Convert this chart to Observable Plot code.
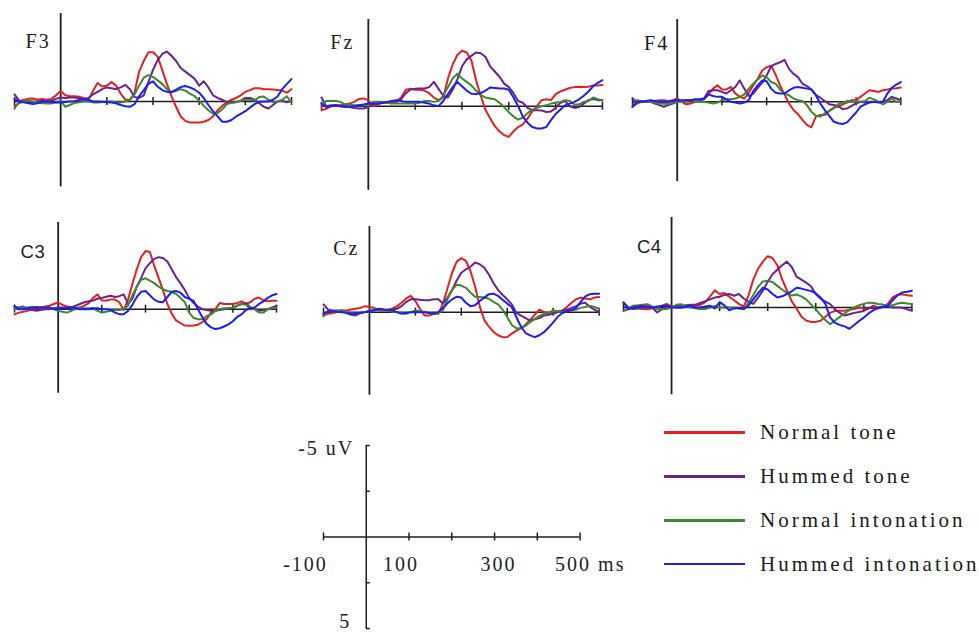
<!DOCTYPE html>
<html>
<head>
<meta charset="utf-8">
<script src="https://cdn.jsdelivr.net/npm/d3@7"></script>
<script src="https://cdn.jsdelivr.net/npm/@observablehq/plot@0.6"></script>
<style>
  html, body { margin: 0; padding: 0; background: #fff; }
  #chart { position: relative; width: 979px; height: 634px; overflow: hidden; background: #fff; }
  #chart svg { position: absolute; overflow: visible; }
  #chart svg text { letter-spacing: 2px; }
  #chart svg text.sans-label { letter-spacing: 0.5px; }
  .legend-row { position: absolute; display: flex; align-items: center; height: 26px; }
  .legend-swatch { width: 81px; height: 2.5px; margin-right: 15px; }
  .legend-label { font-family: "Liberation Serif", "DejaVu Serif", serif; font-size: 21px; letter-spacing: 3px; color: #1a1a1a; white-space: nowrap; }
</style>
</head>
<body>
<div id="chart"></div>
<script>
// ---------------- data ----------------
const times = d3.range(-100, 501, 10); // ms, 61 samples
const conditions = ["Normal tone", "Hummed tone", "Normal intonation", "Hummed intonation"];
const channels = ["F3", "Fz", "F4", "C3", "Cz", "C4"];

// amplitudes in uV (negative plotted upward)
const f3NormalTone = [0.4, 0.0, -0.1, -0.15, -0.17, -0.1, -0.15, -0.1, -0.15, -0.35, -0.6, -0.35, -0.3, -0.3, -0.27, -0.2, -0.1, -0.6, -1.05, -0.85, -0.9, -1.1, -0.9, -0.45, -0.1, -0.1, -0.5, -1.7, -2.3, -2.8, -2.8, -2.55, -1.8, -1.0, -0.3, 0.3, 0.85, 1.1, 1.2, 1.2, 1.2, 1.15, 1.05, 0.85, 0.5, 0.25, 0.05, -0.1, -0.2, -0.35, -0.55, -0.65, -0.75, -0.75, -0.7, -0.7, -0.68, -0.65, -0.62, -0.5, -0.7];
const f3HummedTone = [-0.4, -0.05, 0.0, 0.05, 0.06, 0.0, -0.05, 0.0, -0.05, -0.15, -0.23, -0.2, -0.23, -0.23, -0.18, -0.13, -0.2, -0.4, -0.55, -0.7, -0.8, -0.75, -0.7, -0.8, -0.95, -0.7, -0.25, -0.2, -0.35, -1.1, -1.8, -2.35, -2.7, -2.84, -2.6, -2.3, -1.9, -1.7, -1.5, -1.3, -0.9, -1.15, -0.8, -0.35, -0.2, -0.1, 0.05, 0.06, 0.03, -0.05, -0.2, -0.2, -0.1, 0.1, 0.3, 0.4, 0.2, 0.0, -0.04, 0.05, -0.04];
const f3NormalIntonation = [0.25, 0.1, 0.0, -0.05, 0.0, 0.05, 0.1, 0.12, 0.12, 0.05, -0.04, 0.3, 0.2, 0.08, 0.05, 0.0, 0.0, 0.05, 0.06, 0.03, 0.0, 0.0, 0.04, 0.05, 0.0, -0.1, -0.4, -0.9, -1.35, -1.5, -1.4, -1.2, -1.0, -0.7, -0.55, -0.6, -0.7, -0.62, -0.45, -0.3, -0.05, 0.25, 0.5, 0.7, 0.65, 0.45, 0.15, 0.08, 0.05, -0.04, -0.1, -0.1, -0.05, -0.25, -0.28, -0.1, 0.05, 0.0, -0.1, -0.3, 0.06];
const f3HummedIntonation = [-0.13, 0.0, 0.05, 0.1, 0.15, 0.1, 0.02, 0.0, 0.03, 0.05, 0.06, 0.03, 0.0, -0.02, -0.08, -0.12, -0.1, 0.0, 0.0, 0.02, 0.04, 0.06, 0.1, 0.2, 0.27, 0.3, 0.15, -0.3, -0.65, -1.0, -1.15, -0.85, -0.65, -0.55, -0.52, -0.68, -0.82, -0.88, -0.8, -0.68, -0.5, -0.2, 0.2, 0.55, 0.85, 1.15, 1.15, 1.05, 0.85, 0.7, 0.55, 0.35, 0.15, 0.02, 0.0, 0.0, -0.1, -0.3, -0.7, -1.0, -1.27];

const fzNormalTone = [0.23, 0.15, 0.0, -0.05, -0.05, -0.1, -0.15, -0.25, -0.42, -0.45, -0.35, 0.0, -0.1, -0.2, -0.2, -0.2, -0.3, -0.5, -0.95, -1.0, -0.95, -0.95, -0.9, -0.75, -0.5, -0.35, -0.5, -1.6, -2.4, -2.95, -3.2, -3.1, -2.65, -1.5, -0.6, 0.2, 0.7, 1.15, 1.45, 1.67, 1.77, 1.45, 1.2, 1.05, 0.7, 0.3, 0.0, -0.35, -0.4, -0.35, -0.7, -0.85, -0.95, -1.05, -1.1, -1.12, -1.1, -1.12, -1.2, -1.2, -1.22];
const fzHummedTone = [-0.5, 0.0, -0.05, -0.05, 0.0, 0.05, 0.05, 0.1, 0.13, 0.13, 0.05, -0.1, -0.15, -0.2, -0.2, -0.17, -0.25, -0.4, -0.75, -0.96, -1.0, -1.02, -1.02, -1.1, -1.4, -1.0, -0.6, -0.5, -0.95, -1.55, -2.3, -2.7, -2.9, -3.1, -3.05, -2.85, -2.3, -2.0, -1.7, -1.3, -1.1, -0.75, -0.3, -0.2, 0.1, 0.23, 0.23, 0.25, 0.33, 0.3, 0.1, -0.2, -0.3, 0.0, 0.1, 0.05, -0.15, -0.35, -0.42, -0.35, -0.35];
const fzNormalIntonation = [0.0, -0.3, -0.3, -0.3, -0.25, -0.1, -0.08, -0.05, -0.05, -0.05, -0.05, -0.25, -0.25, -0.25, -0.2, -0.15, -0.15, -0.15, -0.15, -0.15, -0.15, -0.2, -0.3, -0.3, -0.25, -0.3, -0.6, -1.1, -1.6, -1.88, -1.6, -1.4, -1.2, -0.9, -0.65, -0.5, -0.45, -0.4, -0.2, 0.05, 0.35, 0.6, 0.77, 0.65, 0.4, 0.2, 0.1, 0.0, -0.05, -0.15, -0.2, -0.25, -0.35, -0.3, -0.1, -0.1, -0.25, -0.3, -0.5, -0.4, -0.35];
const fzHummedIntonation = [-0.15, 0.04, 0.0, -0.05, 0.0, 0.0, 0.04, 0.0, -0.05, -0.1, -0.15, -0.15, -0.15, -0.2, -0.25, -0.3, -0.35, -0.3, -0.25, -0.25, -0.25, -0.25, -0.2, -0.15, -0.05, 0.0, -0.3, -0.7, -1.1, -1.4, -1.15, -0.9, -0.72, -0.7, -0.75, -0.9, -1.08, -1.05, -1.02, -1.02, -0.95, -0.5, 0.0, 0.6, 0.95, 1.2, 1.28, 1.29, 1.2, 0.8, 0.45, 0.2, -0.05, -0.15, -0.25, -0.4, -0.6, -0.85, -1.15, -1.35, -1.5];

const f4NormalTone = [0.3, 0.1, 0.0, 0.0, -0.05, -0.05, -0.1, -0.1, -0.05, -0.1, -0.2, 0.0, 0.15, 0.1, 0.0, -0.05, -0.15, -0.45, -0.8, -1.0, -0.75, -0.75, -0.9, -0.5, -0.3, -0.2, -0.55, -1.0, -1.4, -1.9, -2.1, -2.2, -1.65, -1.0, -0.45, 0.1, 0.5, 0.75, 1.1, 1.4, 1.55, 0.9, 0.8, 0.8, 0.55, 0.35, 0.3, 0.15, 0.05, -0.1, -0.1, -0.3, -0.5, -0.7, -0.65, -0.6, -0.7, -0.75, -0.81, -0.82, -0.87];
const f4HummedTone = [-0.2, 0.0, 0.0, 0.0, 0.0, 0.1, 0.2, 0.3, 0.2, 0.1, 0.0, -0.05, -0.1, -0.1, -0.1, -0.1, -0.2, -0.65, -0.7, -0.7, -0.6, -0.5, -0.7, -0.9, -1.3, -0.8, -0.35, -0.5, -0.85, -1.15, -1.6, -2.15, -2.3, -2.4, -2.55, -2.0, -1.7, -1.5, -1.1, -0.95, -0.75, -0.4, -0.25, -0.05, 0.15, 0.2, 0.25, 0.45, 0.4, 0.25, 0.1, 0.0, 0.05, 0.0, 0.0, 0.0, 0.0, -0.1, -0.3, -0.2, -0.1];
const f4NormalIntonation = [0.3, -0.1, -0.05, 0.0, 0.0, 0.05, 0.1, 0.12, 0.14, 0.05, 0.0, 0.0, -0.05, -0.1, -0.05, 0.0, 0.0, 0.05, 0.1, 0.05, -0.1, -0.15, -0.15, -0.2, -0.3, -0.45, -0.8, -1.1, -1.35, -1.6, -1.5, -1.2, -1.1, -0.75, -0.5, -0.4, -0.2, -0.1, -0.05, 0.2, 0.6, 0.85, 0.9, 0.7, 0.55, 0.4, 0.15, 0.05, -0.05, 0.0, -0.05, 0.0, -0.05, -0.25, -0.15, 0.0, 0.15, 0.0, -0.2, 0.0, -0.05];
const f4HummedIntonation = [0.3, 0.0, 0.0, -0.05, -0.1, -0.05, 0.0, 0.0, 0.0, -0.05, -0.1, -0.1, -0.1, -0.1, -0.15, -0.15, -0.2, -0.45, -0.35, -0.3, -0.3, -0.15, 0.0, 0.05, 0.1, 0.05, -0.1, -0.65, -1.0, -1.3, -1.25, -0.8, -0.55, -0.5, -0.5, -0.7, -0.85, -0.9, -0.85, -0.8, -0.75, -0.4, 0.1, 0.5, 0.85, 1.2, 1.3, 1.35, 1.25, 0.95, 0.65, 0.3, 0.15, 0.05, 0.0, 0.05, 0.0, -0.5, -0.85, -1.05, -1.2];

const c3NormalTone = [0.3, 0.2, 0.15, 0.1, 0.0, -0.05, -0.1, -0.15, -0.2, -0.3, -0.38, -0.25, -0.15, -0.12, -0.1, -0.1, -0.2, -0.35, -0.65, -0.85, -0.5, -0.5, -0.55, -0.55, -0.4, 0.05, -0.55, -1.45, -2.3, -3.0, -3.35, -3.3, -2.5, -1.8, -1.1, -0.3, 0.25, 0.65, 0.8, 0.95, 0.96, 0.94, 0.9, 0.75, 0.58, 0.2, 0.0, -0.35, -0.3, -0.3, -0.3, -0.35, -0.45, -0.3, -0.4, -0.6, -0.67, -0.5, -0.45, -0.48, -0.48];
const c3HummedTone = [-0.1, -0.1, -0.15, 0.0, 0.05, 0.1, 0.05, 0.0, 0.0, -0.05, -0.1, -0.1, -0.1, -0.1, -0.2, -0.3, -0.4, -0.45, -0.5, -0.6, -0.65, -0.72, -0.77, -0.7, -0.75, -0.85, -0.3, -0.6, -1.3, -1.8, -2.35, -2.65, -2.9, -3.0, -2.95, -2.75, -2.3, -1.85, -1.5, -1.1, -0.65, -0.35, -0.15, 0.0, 0.05, 0.1, 0.1, 0.05, 0.0, -0.05, -0.05, -0.2, -0.3, -0.35, -0.1, -0.05, 0.1, 0.05, 0.0, -0.1, -0.2];
const c3NormalIntonation = [0.0, -0.05, -0.1, -0.1, -0.12, -0.12, -0.1, -0.1, -0.1, 0.0, 0.1, 0.15, 0.2, 0.1, 0.0, -0.1, -0.05, -0.05, -0.05, 0.1, 0.19, 0.15, 0.1, 0.07, 0.05, 0.0, -0.2, -0.8, -1.3, -1.7, -1.78, -1.65, -1.5, -1.3, -1.15, -1.05, -1.0, -0.88, -0.65, -0.4, 0.2, 0.5, 0.58, 0.58, 0.4, 0.3, 0.1, 0.0, -0.05, -0.05, -0.1, -0.2, -0.3, -0.25, 0.0, 0.0, 0.2, 0.2, 0.0, -0.05, -0.1];
const c3HummedIntonation = [-0.2, 0.0, 0.0, -0.05, -0.1, -0.1, -0.1, -0.1, -0.1, 0.0, 0.0, -0.05, -0.05, -0.1, -0.05, 0.0, 0.0, 0.0, -0.05, -0.05, 0.0, 0.0, 0.05, 0.2, 0.29, 0.29, 0.1, -0.25, -0.7, -1.0, -1.05, -0.8, -0.55, -0.42, -0.4, -0.7, -1.0, -1.05, -0.95, -0.7, -0.6, -0.48, 0.0, 0.45, 0.85, 1.05, 1.15, 1.1, 1.0, 0.88, 0.7, 0.45, 0.3, 0.05, -0.05, -0.1, -0.3, -0.45, -0.65, -0.8, -0.87];

const czNormalTone = [0.19, 0.1, 0.05, 0.0, -0.1, -0.1, -0.15, -0.2, -0.25, -0.35, -0.3, -0.25, -0.1, -0.1, -0.15, -0.2, -0.35, -0.55, -0.8, -0.95, -0.65, -0.2, 0.2, 0.2, 0.1, 0.1, -0.5, -1.4, -2.3, -2.95, -3.15, -3.0, -2.4, -1.5, -0.35, 0.45, 0.85, 1.15, 1.35, 1.46, 1.45, 1.25, 1.08, 0.95, 0.72, 0.45, 0.15, -0.15, 0.0, 0.05, 0.0, -0.05, -0.1, -0.3, -0.55, -0.75, -0.85, -0.8, -0.75, -0.85, -0.88];
const czHummedTone = [-0.45, -0.15, -0.1, -0.1, -0.1, 0.05, 0.15, 0.19, 0.05, 0.0, -0.05, -0.15, -0.2, -0.15, -0.1, -0.15, -0.2, -0.35, -0.6, -0.75, -0.75, -0.72, -0.7, -0.7, -0.75, -0.75, -0.5, -0.85, -1.3, -1.85, -2.3, -2.5, -2.65, -2.9, -2.8, -2.6, -2.2, -1.7, -1.3, -1.0, -0.75, -0.45, 0.05, 0.2, 0.35, 0.49, 0.42, 0.35, 0.2, 0.15, 0.1, 0.0, -0.08, -0.15, -0.25, -0.35, -0.5, -0.55, -0.3, -0.15, 0.0];
const czNormalIntonation = [0.25, -0.1, -0.05, -0.05, -0.1, 0.0, 0.05, 0.1, 0.05, 0.0, -0.1, -0.15, -0.15, -0.1, -0.08, -0.02, 0.0, 0.05, 0.1, 0.0, -0.1, -0.05, 0.0, 0.05, 0.1, 0.05, -0.1, -0.75, -1.3, -1.6, -1.55, -1.42, -1.15, -0.9, -0.88, -0.85, -0.78, -0.6, -0.45, -0.15, 0.3, 0.75, 0.95, 0.92, 0.8, 0.58, 0.4, 0.22, 0.1, 0.05, -0.1, -0.05, 0.0, -0.05, -0.1, -0.15, -0.25, -0.3, -0.38, -0.3, -0.2];
const czHummedIntonation = [0.1, -0.05, -0.05, -0.02, 0.0, 0.05, 0.08, 0.1, 0.05, 0.0, -0.05, -0.1, -0.18, -0.15, -0.12, -0.1, 0.0, 0.1, 0.05, 0.0, 0.0, 0.0, 0.0, 0.05, 0.1, 0.0, -0.25, -0.52, -0.75, -0.9, -0.85, -0.55, -0.35, -0.4, -0.65, -0.85, -1.05, -1.08, -0.95, -0.72, -0.5, -0.3, 0.3, 0.85, 1.22, 1.36, 1.46, 1.35, 1.17, 0.9, 0.6, 0.27, 0.05, -0.05, -0.12, -0.25, -0.6, -0.92, -1.05, -1.07, -1.07];

const c4NormalTone = [0.19, 0.1, 0.0, 0.05, 0.08, 0.1, 0.05, 0.0, -0.1, -0.2, -0.05, 0.0, 0.0, -0.05, -0.1, -0.1, -0.15, -0.3, -0.6, -0.95, -0.75, -0.8, -0.6, -0.4, -0.2, -0.05, -0.65, -1.55, -2.15, -2.55, -2.85, -2.75, -2.35, -1.57, -0.95, -0.35, 0.05, 0.5, 0.72, 0.8, 0.8, 0.74, 0.52, 0.3, 0.19, 0.18, 0.18, 0.12, 0.08, 0.0, 0.05, 0.07, -0.1, 0.0, -0.05, -0.2, -0.56, -0.7, -0.74, -0.68, -0.65];
const c4HummedTone = [-0.28, 0.0, 0.09, 0.05, 0.0, 0.0, 0.0, 0.28, 0.1, 0.0, -0.05, -0.08, -0.09, -0.12, -0.15, -0.15, -0.25, -0.35, -0.45, -0.55, -0.6, -0.7, -0.75, -0.65, -0.75, -0.5, -0.33, -0.2, -0.55, -0.95, -1.42, -1.85, -2.1, -2.35, -2.55, -2.25, -1.72, -1.55, -1.38, -1.18, -0.75, -0.5, -0.33, -0.19, 0.1, 0.3, 0.45, 0.38, 0.3, 0.25, 0.19, 0.03, 0.02, 0.04, -0.05, -0.08, 0.0, 0.0, 0.02, 0.1, 0.18];
const c4NormalIntonation = [0.19, 0.05, -0.1, -0.12, -0.15, -0.18, -0.05, 0.09, 0.1, 0.09, 0.0, -0.15, -0.18, -0.05, 0.0, 0.05, 0.08, 0.09, 0.0, -0.08, 0.0, 0.0, 0.0, 0.0, 0.05, 0.09, -0.25, -0.7, -1.15, -1.45, -1.48, -1.42, -1.2, -1.0, -0.8, -0.67, -0.72, -0.62, -0.45, -0.17, 0.1, 0.42, 0.7, 0.93, 0.72, 0.52, 0.33, 0.13, 0.0, -0.12, -0.2, -0.27, -0.25, -0.2, -0.16, -0.1, -0.12, -0.22, -0.26, -0.22, -0.19];
const c4HummedIntonation = [-0.28, 0.09, 0.0, -0.05, -0.09, -0.05, 0.0, -0.05, -0.08, -0.1, 0.0, 0.0, 0.0, -0.05, -0.08, 0.0, 0.0, -0.05, -0.1, 0.05, -0.3, -0.12, 0.15, 0.05, 0.03, 0.09, -0.1, -0.45, -0.8, -1.1, -1.0, -0.75, -0.56, -0.62, -0.75, -0.9, -1.1, -1.05, -0.98, -0.92, -0.78, -0.55, -0.2, 0.56, 0.85, 0.97, 1.05, 1.18, 0.97, 0.75, 0.56, 0.33, 0.15, 0.03, -0.03, -0.1, -0.4, -0.68, -0.84, -0.88, -0.93];

// axis ticks / labels
const panelTicks = [-100, 100, 200, 300, 400, 500];
const scaleXTicks = [-100, 100, 200, 300, 400, 500];
const scaleXLabelValues = [-100, 100, 300, 500];
const scaleXLabels = ["-100", "100", "300", "500"];
const scaleXUnit = "ms";
const scaleYTicks = [-5, -2.5, 2.5, 5];
const scaleYLabelValues = [-5, 5];
const scaleYLabels = ["-5 uV", "5"];

// ---------------- styles / layout ----------------
const colors = ["#e3201f", "#6b2191", "#3b8a30", "#1d1dfa"];
const axisColor = "#1e1e1e";
const serif = "'Liberation Serif', 'DejaVu Serif', serif";
const sans = "'Liberation Sans', Arial, sans-serif";

const waves = {
  F3: [f3NormalTone, f3HummedTone, f3NormalIntonation, f3HummedIntonation],
  Fz: [fzNormalTone, fzHummedTone, fzNormalIntonation, fzHummedIntonation],
  F4: [f4NormalTone, f4HummedTone, f4NormalIntonation, f4HummedIntonation],
  C3: [c3NormalTone, c3HummedTone, c3NormalIntonation, c3HummedIntonation],
  Cz: [czNormalTone, czHummedTone, czNormalIntonation, czHummedIntonation],
  C4: [c4NormalTone, c4HummedTone, c4NormalIntonation, c4HummedIntonation]
};

// pixel frames: x spans -100..500 ms, y spans -5..+5 uV
const frames = {
  F3: {left: 14,    right: 291,   top: 12.7,  bottom: 188.7, font: serif, size: 20, cls: "serif-label", dx: -10, dy: -54},
  Fz: {left: 320.7, right: 601.7, top: 19.3,  bottom: 192.7, font: serif, size: 20, cls: "serif-label", dx: -14, dy: -57},
  F4: {left: 631.7, right: 900,   top: 19.4,  bottom: 184,   font: serif, size: 20, cls: "serif-label", dx: -8,  dy: -52},
  C3: {left: 14,    right: 276,   top: 221.7, bottom: 395,   font: sans,  size: 18.5, cls: "sans-label", dx: -13, dy: -51},
  Cz: {left: 322.7, right: 598.3, top: 226,   bottom: 397.3, font: serif, size: 20, cls: "serif-label", dx: -10, dy: -57},
  C4: {left: 623.3, right: 911.7, top: 216.7, bottom: 396.7, font: sans,  size: 18.5, cls: "sans-label", dx: -10, dy: -54}
};
const scaleFrame = {left: 322.7, right: 579.3, top: 445, bottom: 628};
const scaleXLabelShift = [-18, -8, 4, -7];
const legendLayout = {left: 664, firstCenter: 432.7, gap: 43.8};

const M = 30;
const chart = document.getElementById("chart");
function place(svg, f) {
  svg.style.left = (f.left - M) + "px";
  svg.style.top = (f.top - M) + "px";
  chart.append(svg);
}

// ---------------- panels ----------------
for (const ch of channels) {
  const f = frames[ch];
  const rows = waves[ch].flatMap((arr, ci) =>
    arr.map((v, i) => ({t: times[i], v, cond: conditions[ci]})));
  const svg = Plot.plot({
    width: f.right - f.left + 2 * M,
    height: f.bottom - f.top + 2 * M,
    margin: M,
    x: {domain: [-100, 500], axis: null},
    y: {domain: [-5, 5], reverse: true, axis: null},
    color: {domain: conditions, range: colors},
    style: {fontFamily: f.font, fontSize: "20px", background: "transparent", overflow: "visible", color: axisColor},
    marks: [
      Plot.ruleY([0], {x1: -100, x2: 500, stroke: axisColor, strokeWidth: 1.5}),
      Plot.ruleX(panelTicks, {y1: 0, y2: 0, insetTop: -4, insetBottom: -4, stroke: axisColor, strokeWidth: 1.5}),
      Plot.ruleX([0], {y1: -5, y2: 4.85, stroke: axisColor, strokeWidth: 1.8}),
      Plot.line(rows, {x: "t", y: "v", z: "cond", stroke: "cond", strokeWidth: 2, strokeLinejoin: "round"}),
      Plot.text([ch], {x: 0, y: 0, text: d => d, textAnchor: "end", lineAnchor: "bottom",
                       dx: f.dx, dy: f.dy, fill: axisColor, fontSize: f.size, fontFamily: f.font})
    ]
  });
  svg.querySelectorAll("text").forEach(t => t.classList.add(f.cls));
  place(svg, f);
}

// ---------------- scale bar ----------------
{
  const f = scaleFrame;
  const labelMarks = scaleXLabelValues.map((val, i) =>
    Plot.text([val], {x: d => d, y: 0, text: () => scaleXLabels[i], textAnchor: "middle", lineAnchor: "middle",
                      dy: 28, dx: scaleXLabelShift[i], fill: axisColor, fontSize: 20}));
  const svg = Plot.plot({
    width: f.right - f.left + 2 * M,
    height: f.bottom - f.top + 2 * M,
    margin: M,
    x: {domain: [-100, 500], axis: null},
    y: {domain: [-5, 5], reverse: true, axis: null},
    style: {fontFamily: serif, fontSize: "20px", background: "transparent", overflow: "visible", color: axisColor},
    marks: [
      Plot.ruleY([0], {x1: -100, x2: 500, stroke: axisColor, strokeWidth: 1.5}),
      Plot.ruleX(scaleXTicks, {y1: 0, y2: 0, insetTop: -4, insetBottom: -4, stroke: axisColor, strokeWidth: 1.5}),
      Plot.ruleX([0], {y1: -5, y2: 5, stroke: axisColor, strokeWidth: 1.5}),
      Plot.ruleY(scaleYTicks, {x1: 0, x2: 0, insetRight: -4, stroke: axisColor, strokeWidth: 1.5}),
      ...labelMarks,
      Plot.text([scaleXUnit], {x: 500, y: 0, text: d => d, textAnchor: "start", lineAnchor: "middle",
                               dy: 28, dx: 18, fill: axisColor, fontSize: 20}),
      Plot.text([scaleYLabelValues[0]], {x: 0, y: d => d, text: () => scaleYLabels[0],
                                         textAnchor: "end", lineAnchor: "middle", dx: -12, dy: 3, fill: axisColor, fontSize: 20}),
      Plot.text([scaleYLabelValues[1]], {x: 0, y: d => d, text: () => scaleYLabels[1],
                                         textAnchor: "end", lineAnchor: "bottom", dx: -15, dy: 0, fill: axisColor, fontSize: 20})
    ]
  });
  place(svg, f);
}

// ---------------- legend ----------------
conditions.forEach((c, i) => {
  const row = document.createElement("div");
  row.className = "legend-row";
  row.style.left = legendLayout.left + "px";
  row.style.top = (legendLayout.firstCenter + i * legendLayout.gap - 13) + "px";
  const sw = document.createElement("div");
  sw.className = "legend-swatch";
  sw.style.background = colors[i];
  const lb = document.createElement("span");
  lb.className = "legend-label";
  lb.textContent = c;
  row.append(sw, lb);
  chart.append(row);
});
</script>
</body>
</html>
